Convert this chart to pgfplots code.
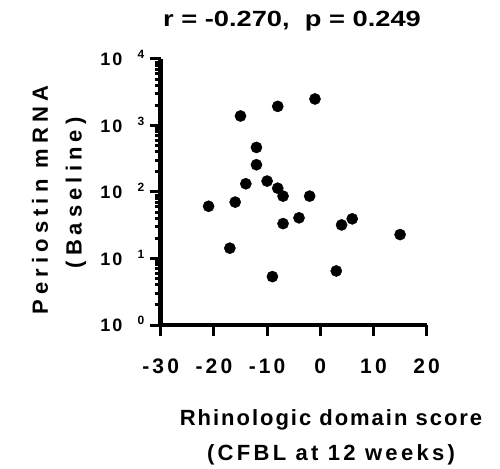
\documentclass[border=0pt]{standalone}
\usepackage{fontspec}
\setmainfont{Liberation Sans}
\newfontfamily\lsfont[LetterSpace=15]{Liberation Sans}
\newfontfamily\lsxfont[LetterSpace=9]{Liberation Sans}
\newfontfamily\lsxbfont[LetterSpace=15]{Liberation Sans}
\newfontfamily\lsyfont[LetterSpace=23]{Liberation Sans}
\usepackage{graphicx}
\usepackage{pgfplots}
\pgfplotsset{compat=1.18}
\newcommand{\ylab}[1]{1\hspace{2bp}0\hspace{15bp}\raisebox{7bp}{\fontsize{12bp}{12bp}\selectfont #1}}
\begin{document}
\begin{tikzpicture}
\begin{axis}[
  name=ax,
  scale only axis,
  width=266bp, height=266bp,
  xmin=-30, xmax=20,
  ymode=log, ymin=1, ymax=10000,
  axis x line*=bottom, axis y line*=left,
  axis line style={black, line width=4.5bp},
  xtick align=outside, ytick align=outside,
  major tick length=11bp,
  minor tick length=6bp,
  every tick/.style={black, line width=3bp},
  xtick={-30,-20,-10,0,10,20},
  xticklabels={-30,-20,-10,0,10,20},
  xticklabel style={font=\fontsize{21bp}{24bp}\selectfont\lsfont\bfseries, yshift=-19bp},
  ytick={1,10,100,1000,10000},
  yticklabels={\ylab{0},\ylab{1},\ylab{2},\ylab{3},\ylab{4}},
  yticklabel style={font=\fontsize{18bp}{20bp}\selectfont\bfseries, xshift=-2bp, yshift=1bp},
  minor ytick={2,3,4,5,6,7,8,9,20,30,40,50,60,70,80,90,200,300,400,500,600,700,800,900,2000,3000,4000,5000,6000,7000,8000,9000},
  clip=false,
]
\addplot[only marks, mark=*, mark size=5.6bp, mark options={fill=black, draw=black}] coordinates {
(-21,61) (-17,14.3) (-16,70.5) (-15,1390) (-14,133)
(-12,468) (-12,257) (-10,146) (-9,5.34) (-8,1940)
(-8,114) (-7,86.7) (-7,33.5) (-4,40.9) (-2,86.7)
(-1,2506) (3,6.5) (4,32) (6,39.5) (15,22.9)
};
\end{axis}
\node[font=\fontsize{22bp}{24bp}\selectfont\bfseries] at ([xshift=131.3bp,yshift=304bp]ax.south west) {\scalebox{1.24}[1]{r = -0.270,\ \ p = 0.249}};
\node[anchor=base, font=\fontsize{22bp}{24bp}\selectfont\lsxfont\bfseries] at ([xshift=170.3bp,yshift=-100bp]ax.south west) {Rhinologic domain score};
\node[anchor=base, font=\fontsize{22bp}{24bp}\selectfont\lsxbfont\bfseries] at ([xshift=170.3bp,yshift=-135bp]ax.south west) {(CFBL at 12 weeks)};
\node[rotate=90, font=\fontsize{22bp}{24bp}\selectfont\lsyfont\bfseries] at ([xshift=-120.7bp,yshift=125bp]ax.south west) {Periostin mRNA};
\node[rotate=90, font=\fontsize{22bp}{24bp}\selectfont\lsyfont\bfseries] at ([xshift=-84.7bp,yshift=132bp]ax.south west) {(Baseline)};
\pgfresetboundingbox
\path[use as bounding box] ([xshift=-160.7bp,yshift=-144bp]ax.south west) rectangle ([xshift=339.3bp,yshift=325bp]ax.south west);
\end{tikzpicture}
\end{document}
